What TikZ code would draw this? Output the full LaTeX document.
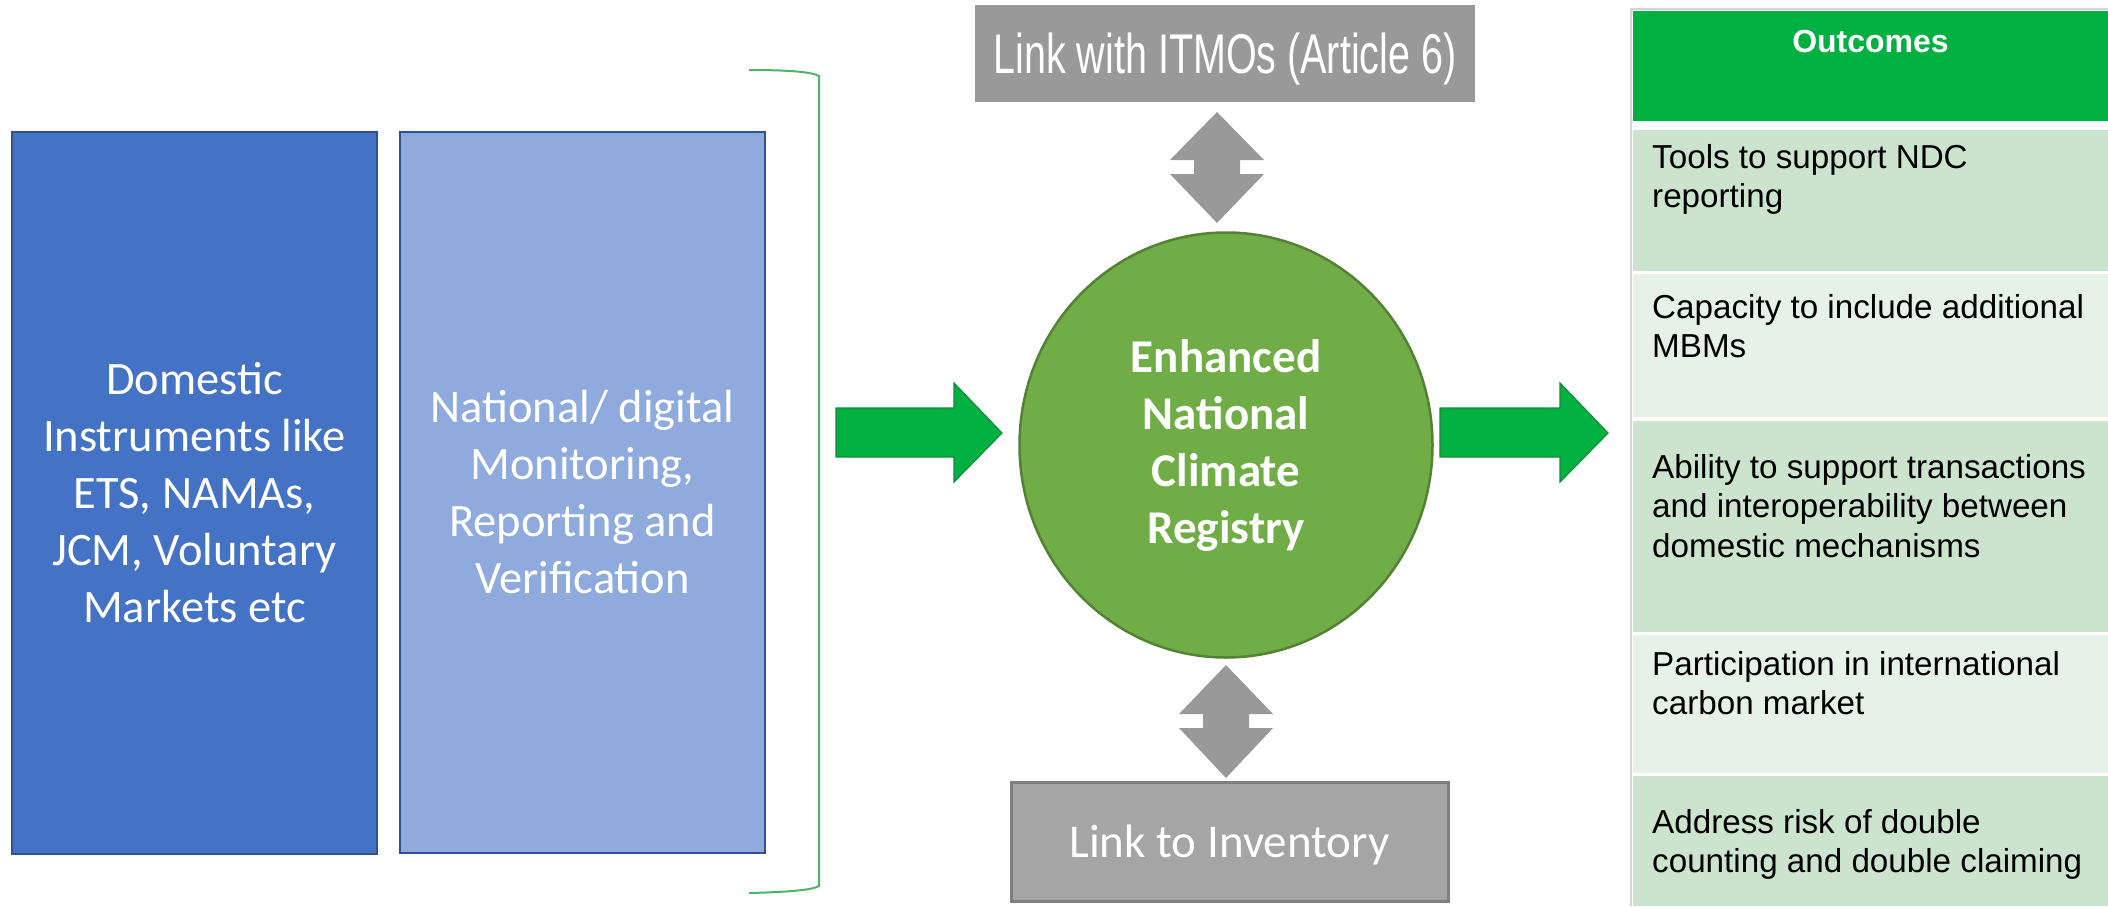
\documentclass[tikz,border=0pt]{standalone}
\usepackage{fontspec}
\usepackage{graphicx}
\usetikzlibrary{shapes.geometric}
\setmainfont{Carlito}
\newfontfamily\calibrif{Carlito}
\newfontfamily\arialf{Liberation Sans}

\definecolor{dblue}{HTML}{4472C4}
\definecolor{lblue}{HTML}{8FAADC}
\definecolor{bborder}{HTML}{2F528F}
\definecolor{kgreen}{HTML}{00B040}
\definecolor{kgreenline}{HTML}{0E8C3A}
\definecolor{circfill}{HTML}{70AD47}
\definecolor{circline}{HTML}{548235}
\definecolor{grayA}{HTML}{999999}
\definecolor{grayB}{HTML}{A5A5A5}
\definecolor{grayBline}{HTML}{7F7F7F}
\definecolor{rowdark}{HTML}{CCE4CE}
\definecolor{rowlight}{HTML}{E6F1E8}
\definecolor{bracegreen}{HTML}{4DB36A}
\definecolor{frameline}{HTML}{D4D4D4}

\begin{document}
\begin{tikzpicture}[x=1pt,y=-1pt,
  colbox/.style={draw=bborder, line width=2pt, anchor=north west, inner sep=0,
    align=center, text=white, font=\calibrif\fontsize{46.5}{57}\selectfont},
  rowbox/.style={anchor=north west, inner sep=0, minimum width=475},
  rowtext/.style={anchor=base west, inner sep=0, text=black,
    font=\arialf\fontsize{33.2}{39.5}\selectfont},
  blockarrow/.style={fill=kgreen, draw=kgreenline, line width=1.2pt, line join=miter},
  linkarrow/.style={fill=grayA}]

\useasboundingbox (0,0) rectangle (2108,906);

% input columns
\node[colbox, fill=dblue, minimum width=365, minimum height=722] (dom) at (11,131)
  {Domestic\\Instruments like\\ETS, NAMAs,\\JCM, Voluntary\\Markets etc};
\node[colbox, fill=lblue, minimum width=365, minimum height=721] (mrv) at (399,131)
  {National/ digital\\Monitoring,\\Reporting and\\Verification};

% closing bracket around the inputs
\draw[bracegreen, line width=2pt] (749,70) .. controls (790,70) and (812,72) .. (819,76)
  -- (819,886) .. controls (812,890) and (790,892) .. (749,893);

% block arrows into and out of the registry
\draw[blockarrow] (836,408) -- (954,408) -- (954,383) -- (1002,433) -- (954,482) -- (954,457) -- (836,457) -- cycle;
\draw[blockarrow] (1440,408) -- (1560,408) -- (1560,383) -- (1608,433) -- (1560,482) -- (1560,457) -- (1440,457) -- cycle;

% registry
\node[ellipse, draw=circline, line width=2.5pt, fill=circfill, minimum width=413,
  minimum height=425, inner sep=0, align=center, text=white,
  font=\calibrif\bfseries\fontsize{47}{57}\selectfont] (reg) at (1226,445)
  {Enhanced\\National\\Climate\\Registry};

% Article 6 link
\node[fill=grayA, minimum width=500, minimum height=97, inner sep=0, text=white,
  font=\arialf\fontsize{56}{60}\selectfont, text height=40, text depth=0] (itmo) at (1225,53.5)
  {\scalebox{0.705}[1]{Link with ITMOs (Article 6)}};

% inventory link
\node[fill=grayB, draw=grayBline, line width=3pt, minimum width=437, minimum height=119,
  inner sep=0, text=white, font=\calibrif\fontsize{47}{57}\selectfont,
  text height=31, text depth=0] (inv) at (1229.5,841.5) {Link to Inventory};

% two-way arrows
\fill[linkarrow] (1217,112) -- (1264,160) -- (1240,160) -- (1240,174) -- (1264,174) -- (1217,223)
  -- (1170,174) -- (1194,174) -- (1194,160) -- (1170,160) -- cycle;
\fill[linkarrow] (1226,665) -- (1273,714) -- (1249,714) -- (1249,728) -- (1273,728) -- (1226,778)
  -- (1179,728) -- (1203,728) -- (1203,714) -- (1179,714) -- cycle;

% outcomes table
\draw[frameline, line width=1.5pt] (1631,906) -- (1631,9) -- (2108,9);
\node[rowbox, fill=kgreen, minimum height=110] (hdr) at (1633,11) {};
\node[anchor=base, inner sep=0, text=white, font=\arialf\bfseries\fontsize{32}{38}\selectfont]
  (hdrtext) at (1870.5,52) {Outcomes};

\node[rowbox, fill=rowdark, minimum height=141] (r1) at (1633,130) {};
\node[rowbox, fill=rowlight, minimum height=143] (r2) at (1633,274) {};
\node[rowbox, fill=rowdark, minimum height=211] (r3) at (1633,421) {};
\node[rowbox, fill=rowlight, minimum height=138] (r4) at (1633,635) {};
\node[rowbox, fill=rowdark, minimum height=130] (r5) at (1633,776) {};

\node[rowtext] (t1) at (1652,168) {\parbox[t]{450pt}{Tools to support NDC\\reporting}};
\node[rowtext] (t2) at (1652,318) {\parbox[t]{450pt}{Capacity to include additional\\MBMs}};
\node[rowtext] (t3) at (1652,478) {\parbox[t]{450pt}{Ability to support transactions\\and interoperability between\\domestic mechanisms}};
\node[rowtext] (t4) at (1652,675) {\parbox[t]{450pt}{Participation in international\\carbon market}};
\node[rowtext] (t5) at (1652,833) {\parbox[t]{450pt}{Address risk of double\\counting and double claiming}};

\end{tikzpicture}
\end{document}
